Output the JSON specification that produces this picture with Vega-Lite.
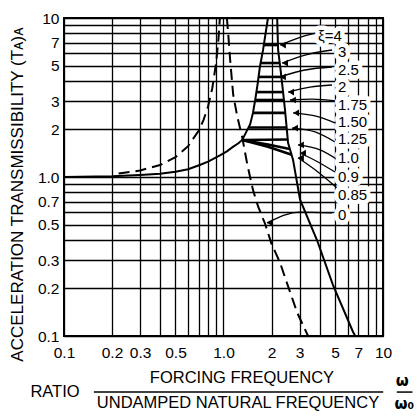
{
  "$schema": "https://vega.github.io/schema/vega-lite/v6.json",
  "autosize": {"type": "none"},
  "width": 319,
  "height": 318,
  "padding": {"left": 64, "top": 18, "right": 34, "bottom": 81},
  "background": "white",
  "config": {
    "view": {"stroke": "black", "strokeWidth": 2},
    "axis": {
      "grid": true, "gridColor": "black", "gridOpacity": 1, "gridWidth": 1.3,
      "ticks": false, "domain": false,
      "labelFont": "Liberation Sans, DejaVu Sans, sans-serif",
      "labelFontSize": 15.5, "labelColor": "black",
      "labelOverlap": false, "labelFlush": false, "labelBound": false
    }
  },
  "datasets": {
    "curves": [
      {"s": "A", "k": "solid", "x": 0.1, "y": 1.0},
      {"s": "A", "k": "solid", "x": 0.2, "y": 1.01},
      {"s": "A", "k": "solid", "x": 0.3, "y": 1.03},
      {"s": "A", "k": "solid", "x": 0.4, "y": 1.05},
      {"s": "A", "k": "solid", "x": 0.5, "y": 1.08},
      {"s": "A", "k": "solid", "x": 0.6, "y": 1.12},
      {"s": "A", "k": "solid", "x": 0.71, "y": 1.19},
      {"s": "A", "k": "solid", "x": 0.8, "y": 1.25},
      {"s": "A", "k": "solid", "x": 0.95, "y": 1.37},
      {"s": "A", "k": "solid", "x": 1.05, "y": 1.45},
      {"s": "A", "k": "solid", "x": 1.14, "y": 1.54},
      {"s": "A", "k": "solid", "x": 1.24, "y": 1.63},
      {"s": "A", "k": "solid", "x": 1.31, "y": 1.71},
      {"s": "A", "k": "solid", "x": 1.40, "y": 1.95},
      {"s": "A", "k": "solid", "x": 1.47, "y": 2.15},
      {"s": "A", "k": "solid", "x": 1.53, "y": 2.53},
      {"s": "A", "k": "solid", "x": 1.58, "y": 3.05},
      {"s": "A", "k": "solid", "x": 1.64, "y": 3.9},
      {"s": "A", "k": "solid", "x": 1.69, "y": 4.9},
      {"s": "A", "k": "solid", "x": 1.77, "y": 6.3},
      {"s": "A", "k": "solid", "x": 1.90, "y": 10},
      {"s": "B", "k": "solid", "x": 2.17, "y": 10},
      {"s": "B", "k": "solid", "x": 2.20, "y": 6.3},
      {"s": "B", "k": "solid", "x": 2.27, "y": 4.9},
      {"s": "B", "k": "solid", "x": 2.33, "y": 3.9},
      {"s": "B", "k": "solid", "x": 2.43, "y": 2.64},
      {"s": "B", "k": "solid", "x": 2.54, "y": 1.64},
      {"s": "B", "k": "solid", "x": 2.73, "y": 1.28},
      {"s": "B", "k": "solid", "x": 3.02, "y": 0.72},
      {"s": "B", "k": "solid", "x": 3.86, "y": 0.40},
      {"s": "B", "k": "solid", "x": 4.86, "y": 0.209},
      {"s": "B", "k": "solid", "x": 6.49, "y": 0.106},
      {"s": "B", "k": "solid", "x": 6.7, "y": 0.1},
      {"s": "C", "k": "dash", "x": 0.22, "y": 1.051},
      {"s": "C", "k": "dash", "x": 0.3, "y": 1.099},
      {"s": "C", "k": "dash", "x": 0.4, "y": 1.19},
      {"s": "C", "k": "dash", "x": 0.5, "y": 1.333},
      {"s": "C", "k": "dash", "x": 0.6, "y": 1.563},
      {"s": "C", "k": "dash", "x": 0.7, "y": 1.961},
      {"s": "C", "k": "dash", "x": 0.75, "y": 2.286},
      {"s": "C", "k": "dash", "x": 0.8, "y": 2.778},
      {"s": "C", "k": "dash", "x": 0.85, "y": 3.604},
      {"s": "C", "k": "dash", "x": 0.9, "y": 5.263},
      {"s": "C", "k": "dash", "x": 0.93, "y": 7.40},
      {"s": "C", "k": "dash", "x": 0.949, "y": 10.0},
      {"s": "D", "k": "dash", "x": 1.05, "y": 10},
      {"s": "D", "k": "dash", "x": 1.07, "y": 8.0},
      {"s": "D", "k": "dash", "x": 1.10, "y": 5.5},
      {"s": "D", "k": "dash", "x": 1.15, "y": 3.3},
      {"s": "D", "k": "dash", "x": 1.22, "y": 2.4},
      {"s": "D", "k": "dash", "x": 1.31, "y": 1.78},
      {"s": "D", "k": "dash", "x": 1.41, "y": 1.2},
      {"s": "D", "k": "dash", "x": 1.53, "y": 0.83},
      {"s": "D", "k": "dash", "x": 1.65, "y": 0.65},
      {"s": "D", "k": "dash", "x": 1.82, "y": 0.51},
      {"s": "D", "k": "dash", "x": 2.0, "y": 0.38},
      {"s": "D", "k": "dash", "x": 2.26, "y": 0.29},
      {"s": "D", "k": "dash", "x": 2.5, "y": 0.215},
      {"s": "D", "k": "dash", "x": 2.9, "y": 0.14},
      {"s": "D", "k": "dash", "x": 3.39, "y": 0.1},
      {"s": "x4", "k": "xi", "x": 1.78, "y": 6.76},
      {"s": "x4", "k": "xi", "x": 2.21, "y": 6.76},
      {"s": "x3", "k": "xi", "x": 1.71, "y": 5.21},
      {"s": "x3", "k": "xi", "x": 2.26, "y": 5.21},
      {"s": "x25", "k": "xi", "x": 1.665, "y": 4.26},
      {"s": "x25", "k": "xi", "x": 2.30, "y": 4.26},
      {"s": "x2", "k": "xi", "x": 1.615, "y": 3.42},
      {"s": "x2", "k": "xi", "x": 2.36, "y": 3.42},
      {"s": "x175", "k": "xi", "x": 1.58, "y": 3.05},
      {"s": "x175", "k": "xi", "x": 2.39, "y": 3.05},
      {"s": "x15", "k": "xi", "x": 1.53, "y": 2.53},
      {"s": "x15", "k": "xi", "x": 2.45, "y": 2.53},
      {"s": "x125", "k": "xi", "x": 1.44, "y": 2.05},
      {"s": "x125", "k": "xi", "x": 2.50, "y": 2.05},
      {"s": "x1", "k": "xi", "x": 1.31, "y": 1.71},
      {"s": "x1", "k": "xi", "x": 2.52, "y": 1.72},
      {"s": "x09", "k": "xi", "x": 1.31, "y": 1.71},
      {"s": "x09", "k": "xi", "x": 1.9, "y": 1.6},
      {"s": "x09", "k": "xi", "x": 2.6, "y": 1.5},
      {"s": "x085", "k": "xi", "x": 1.31, "y": 1.71},
      {"s": "x085", "k": "xi", "x": 1.9, "y": 1.55},
      {"s": "x085", "k": "xi", "x": 2.68, "y": 1.38},
      {"s": "a4", "k": "arrow", "x": 2.26, "y": 6.76},
      {"s": "a4", "k": "arrow", "x": 2.93, "y": 7.48},
      {"s": "a4", "k": "arrow", "x": 3.80, "y": 8.05},
      {"s": "a3", "k": "arrow", "x": 2.33, "y": 5.21},
      {"s": "a3", "k": "arrow", "x": 3.24, "y": 5.85},
      {"s": "a3", "k": "arrow", "x": 4.79, "y": 6.29},
      {"s": "a25", "k": "arrow", "x": 2.26, "y": 4.26},
      {"s": "a25", "k": "arrow", "x": 3.24, "y": 4.71},
      {"s": "a25", "k": "arrow", "x": 4.79, "y": 4.92},
      {"s": "a2", "k": "arrow", "x": 2.54, "y": 3.42},
      {"s": "a2", "k": "arrow", "x": 3.49, "y": 3.68},
      {"s": "a2", "k": "arrow", "x": 4.79, "y": 3.79},
      {"s": "a175", "k": "arrow", "x": 2.61, "y": 3.05},
      {"s": "a175", "k": "arrow", "x": 3.59, "y": 3.09},
      {"s": "a175", "k": "arrow", "x": 5.07, "y": 3.01},
      {"s": "a15", "k": "arrow", "x": 2.73, "y": 2.53},
      {"s": "a15", "k": "arrow", "x": 3.75, "y": 2.42},
      {"s": "a15", "k": "arrow", "x": 5.0, "y": 2.19},
      {"s": "a125", "k": "arrow", "x": 2.69, "y": 2.03},
      {"s": "a125", "k": "arrow", "x": 3.75, "y": 1.92},
      {"s": "a125", "k": "arrow", "x": 5.0, "y": 1.66},
      {"s": "a1", "k": "arrow", "x": 2.93, "y": 1.59},
      {"s": "a1", "k": "arrow", "x": 4.03, "y": 1.48},
      {"s": "a1", "k": "arrow", "x": 5.22, "y": 1.28},
      {"s": "a09", "k": "arrow", "x": 3.02, "y": 1.415},
      {"s": "a09", "k": "arrow", "x": 3.91, "y": 1.243},
      {"s": "a09", "k": "arrow", "x": 5.0, "y": 1.075},
      {"s": "a085", "k": "arrow", "x": 2.93, "y": 1.32},
      {"s": "a085", "k": "arrow", "x": 3.91, "y": 1.075},
      {"s": "a085", "k": "arrow", "x": 5.15, "y": 0.853},
      {"s": "a0", "k": "arrow", "x": 1.874, "y": 0.514},
      {"s": "a0", "k": "arrow", "x": 3.02, "y": 0.602},
      {"s": "a0", "k": "arrow", "x": 4.79, "y": 0.594}
    ],
    "tips": [
      {"x": 2.26, "y": 6.76}, {"x": 2.33, "y": 5.21}, {"x": 2.26, "y": 4.26},
      {"x": 2.54, "y": 3.42}, {"x": 2.61, "y": 3.05}, {"x": 2.73, "y": 2.53},
      {"x": 2.69, "y": 2.03}, {"x": 2.93, "y": 1.59}, {"x": 3.02, "y": 1.415},
      {"x": 2.93, "y": 1.32}, {"x": 1.874, "y": 0.514}
    ],
    "labels": [
      {"t": "ξ=4", "x": 3.91, "y": 7.70},
      {"t": "3", "x": 5.22, "y": 6.11},
      {"t": "2.5", "x": 5.22, "y": 4.71},
      {"t": "2", "x": 5.22, "y": 3.68},
      {"t": "1.75", "x": 5.22, "y": 2.84},
      {"t": "1.50", "x": 5.22, "y": 2.22},
      {"t": "1.25", "x": 5.22, "y": 1.73},
      {"t": "1.0", "x": 5.22, "y": 1.32},
      {"t": "0.9", "x": 5.22, "y": 1.0},
      {"t": "0.85", "x": 5.22, "y": 0.77},
      {"t": "0", "x": 5.22, "y": 0.577}
    ],
    "titles": [
      {"t": "RATIO", "x": 0.0878, "y": 0.0444},
      {"t": "FORCING FREQUENCY", "x": 1.306, "y": 0.0544},
      {"t": "UNDAMPED NATURAL FREQUENCY", "x": 1.233, "y": 0.0379}
    ],
    "omega": [
      {"t": "ω", "x": 13.2, "y": 0.0522},
      {"t": "ω₀", "x": 13.6, "y": 0.0376}
    ],
    "bars": [
      {"x": 0.154, "x2": 10.03, "y": 0.0444},
      {"x": 12.2, "x2": 15.3, "y": 0.0444}
    ]
  },
  "encoding": {
    "x": {"field": "x", "type": "quantitative",
      "scale": {"type": "log", "domain": [0.1, 10], "nice": false},
      "axis": {
        "title": null, "labelPadding": 9,
        "values": [0.1, 0.2, 0.3, 0.4, 0.5, 0.6, 0.7, 0.8, 0.9, 1, 2, 3, 4, 5, 6, 7, 8, 9, 10],
        "labelExpr": "datum.value == 1 ? '1.0' : (indexof([0.1, 0.2, 0.3, 0.5, 2, 3, 5, 7, 10], datum.value) >= 0 ? format(datum.value, '~g') : '')"
      }
    },
    "y": {"field": "y", "type": "quantitative",
      "scale": {"type": "log", "domain": [0.1, 10], "nice": false},
      "axis": {
        "labelPadding": 5,
        "values": [0.1, 0.2, 0.3, 0.4, 0.5, 0.6, 0.7, 0.8, 0.9, 1, 2, 3, 4, 5, 6, 7, 8, 9, 10],
        "labelExpr": "datum.value == 1 ? '1.0' : (indexof([0.1, 0.2, 0.3, 0.5, 0.7, 2, 3, 5, 7, 10], datum.value) >= 0 ? format(datum.value, '~g') : '')",
        "title": "ACCELERATION TRANSMISSIBILITY (Tᴀ)ᴀ",
        "titleFont": "Liberation Sans, DejaVu Sans, sans-serif",
        "titleFontSize": 17, "titleFontWeight": "normal", "titleColor": "black",
        "titleAngle": 270, "titleX": -47, "titleY": 176,
        "titleAlign": "center", "titleBaseline": "middle"
      }
    }
  },
  "layer": [
    {
      "data": {"name": "curves"},
      "transform": [{"filter": "datum.k == 'solid'"}],
      "mark": {"type": "line", "color": "black", "strokeWidth": 2},
      "encoding": {"detail": {"field": "s"}}
    },
    {
      "data": {"name": "curves"},
      "transform": [{"filter": "datum.k == 'dash'"}],
      "mark": {"type": "line", "color": "black", "strokeWidth": 2, "strokeDash": [11, 6]},
      "encoding": {"detail": {"field": "s"}}
    },
    {
      "data": {"name": "curves"},
      "transform": [{"filter": "datum.k == 'xi'"}],
      "mark": {"type": "line", "color": "black", "strokeWidth": 2.6},
      "encoding": {"detail": {"field": "s"}}
    },
    {
      "data": {"name": "curves"},
      "transform": [{"filter": "datum.k == 'arrow'"}],
      "mark": {"type": "line", "color": "black", "strokeWidth": 1.3, "interpolate": "monotone"},
      "encoding": {"detail": {"field": "s"}}
    },
    {
      "data": {"name": "tips"},
      "mark": {"type": "point", "shape": "triangle-left", "filled": true, "color": "black", "size": 45, "opacity": 1, "xOffset": 3}
    },
    {
      "data": {"name": "labels"},
      "mark": {"type": "text", "align": "left", "baseline": "middle", "fill": "white",
        "stroke": "white", "strokeWidth": 9, "strokeJoin": "round",
        "font": "Liberation Sans, DejaVu Sans, sans-serif", "fontSize": 15},
      "encoding": {"text": {"field": "t"}}
    },
    {
      "data": {"name": "labels"},
      "mark": {"type": "text", "align": "left", "baseline": "middle", "color": "black",
        "font": "Liberation Sans, DejaVu Sans, sans-serif", "fontSize": 15},
      "encoding": {"text": {"field": "t"}}
    },
    {
      "data": {"name": "titles"},
      "mark": {"type": "text", "align": "center", "baseline": "middle", "color": "black",
        "font": "Liberation Sans, DejaVu Sans, sans-serif", "fontSize": 16.5},
      "encoding": {"text": {"field": "t"}}
    },
    {
      "data": {"name": "omega"},
      "mark": {"type": "text", "align": "center", "baseline": "middle", "color": "black",
        "font": "DejaVu Sans, sans-serif", "fontSize": 15, "fontWeight": "bold"},
      "encoding": {"text": {"field": "t"}}
    },
    {
      "data": {"name": "bars"},
      "mark": {"type": "rule", "color": "black", "strokeWidth": 1.5},
      "encoding": {"x2": {"field": "x2"}}
    }
  ]
}
